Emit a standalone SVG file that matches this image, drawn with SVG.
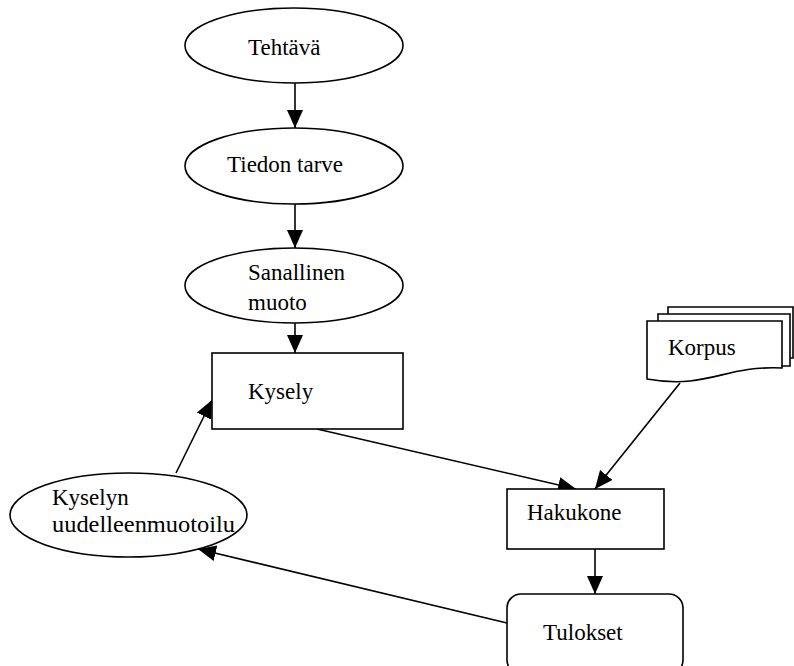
<svg xmlns="http://www.w3.org/2000/svg" width="794" height="666" viewBox="0 0 794 666">
  <style>
    .shape { fill: #ffffff; stroke: #000000; stroke-width: 1.6; }
    .edge { fill: none; stroke: #000000; stroke-width: 1.6; marker-end: url(#arrow); }
    .label { font-family: "Liberation Serif", "Times New Roman", serif; font-size: 23px; fill: #000000; }
  </style>
  <defs>
    <marker id="arrow" markerUnits="userSpaceOnUse" markerWidth="18" markerHeight="16" refX="18" refY="8" orient="auto">
      <path d="M0,0 L18,8 L0,16 Z" fill="#000000"/>
    </marker>
  </defs>
  <rect width="794" height="666" fill="#ffffff"/>

  <g id="connectors">
    <line class="edge" x1="295" y1="83" x2="295" y2="128"/>
    <line class="edge" x1="295" y1="204" x2="295" y2="248"/>
    <line class="edge" x1="295" y1="323" x2="295" y2="353"/>
    <line class="edge" x1="317" y1="429" x2="576" y2="489"/>
    <line class="edge" x1="680" y1="383" x2="595" y2="489"/>
    <line class="edge" x1="595" y1="549" x2="595" y2="594"/>
    <line class="edge" x1="507" y1="623" x2="198" y2="549"/>
    <line class="edge" x1="176" y1="473" x2="212" y2="400"/>
  </g>

  <g id="tehtava">
    <ellipse class="shape" cx="294" cy="45.5" rx="109" ry="37.5"/>
    <text class="label" x="248" y="55">Tehtävä</text>
  </g>

  <g id="tiedon-tarve">
    <ellipse class="shape" cx="294" cy="166" rx="109" ry="38"/>
    <text class="label" x="227" y="172">Tiedon tarve</text>
  </g>

  <g id="sanallinen-muoto">
    <ellipse class="shape" cx="294" cy="285.5" rx="109" ry="37.5"/>
    <text class="label" x="248" y="280">Sanallinen</text>
    <text class="label" x="248" y="310">muoto</text>
  </g>

  <g id="kysely">
    <rect class="shape" x="212" y="353" width="191" height="76"/>
    <text class="label" x="248" y="399">Kysely</text>
  </g>

  <g id="korpus">
    <path class="shape" d="M668,321 L668,307 L793,307 L793,358 L790,358"/>
    <path class="shape" d="M658,321 L658,314 L790,314 L790,366 L782,366"/>
    <path class="shape" d="M647,321 L782,321 L782,368 C740,366 720,378 690,381 C670,383 658,381 647,379 Z"/>
    <text class="label" x="668" y="355">Korpus</text>
  </g>

  <g id="hakukone">
    <rect class="shape" x="507" y="489" width="157" height="60"/>
    <text class="label" x="527" y="520">Hakukone</text>
  </g>

  <g id="tulokset">
    <rect class="shape" x="507" y="594" width="176" height="80" rx="14" ry="14"/>
    <text class="label" x="543" y="640">Tulokset</text>
  </g>

  <g id="kyselyn-uudelleenmuotoilu">
    <ellipse class="shape" cx="128.5" cy="515" rx="118.5" ry="42"/>
    <text class="label" x="52" y="505">Kyselyn</text>
    <text class="label" x="52" y="532" textLength="183" lengthAdjust="spacingAndGlyphs">uudelleenmuotoilu</text>
  </g>
</svg>
